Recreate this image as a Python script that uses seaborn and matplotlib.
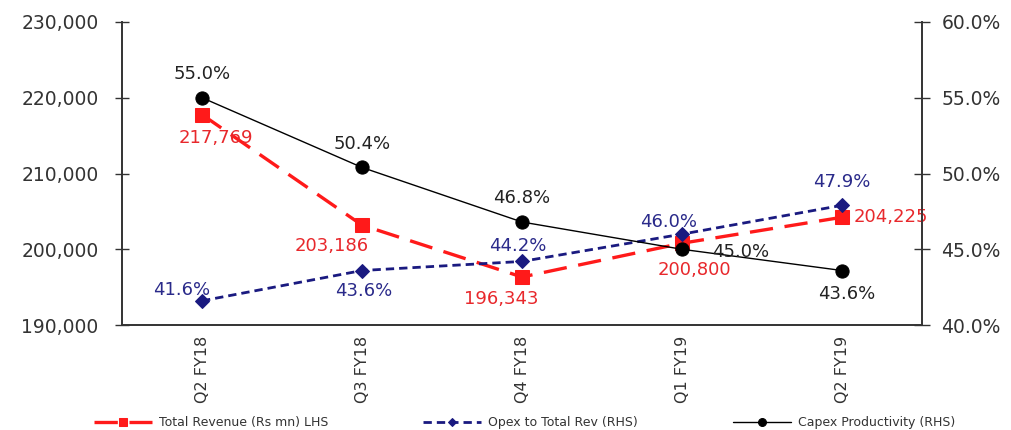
import numpy as np
import pandas as pd
import matplotlib
matplotlib.use("Agg")
import matplotlib.pyplot as plt
import seaborn as sns
from matplotlib.ticker import FuncFormatter

sns.set_style("white")
plt.rcParams['font.family'] = ['DejaVu Sans']

quarters = ["Q2 FY18", "Q3 FY18", "Q4 FY18", "Q1 FY19", "Q2 FY19"]
revenue = [217769, 203186, 196343, 200800, 204225]
opex_ratio = [41.6, 43.6, 44.2, 46.0, 47.9]
capex_prod = [55.0, 50.4, 46.8, 45.0, 43.6]

rev_labels = ["217,769", "203,186", "196,343", "200,800", "204,225"]

df = pd.DataFrame({"pos": np.arange(len(quarters)), "quarter": quarters,
                   "revenue": revenue, "opex": opex_ratio, "capex": capex_prod})

RED = "#ff1a1a"
RED_T = "#e8282c"
NAVY = "#1a1a80"
NAVY_T = "#2a2a8a"
BLK = "#000000"
BLK_T = "#222222"

fig = plt.figure(figsize=(10.11, 4.30), dpi=100)
ax = fig.add_axes([0.1207, 0.244, 0.7913, 0.705])
ax2 = ax.twinx()

sns.lineplot(data=df, x="pos", y="revenue", ax=ax, color=RED, marker="s",
             markersize=9.5, markeredgecolor=RED, linewidth=2.4, label="Total Revenue (Rs mn) LHS",
             legend=False)
ax.get_lines()[-1].set_dashes([7, 3.5])

sns.lineplot(data=df, x="pos", y="opex", ax=ax2, color=NAVY, marker="D",
             markersize=7, markeredgecolor=NAVY, linewidth=2.0, label="Opex to Total Rev (RHS)",
             legend=False)
ax2.get_lines()[-1].set_dashes([3, 1.8])

sns.lineplot(data=df, x="pos", y="capex", ax=ax2, color=BLK, marker="o",
             markersize=9.5, markeredgecolor=BLK, linewidth=1.0, label="Capex Productivity (RHS)",
             legend=False)

ax.set_xlim(-0.5, 4.5)
ax.set_ylim(190000, 230000)
ax2.set_ylim(40, 60)
ax.set_yticks(np.arange(190000, 230001, 10000))
ax2.set_yticks(np.arange(40, 60.01, 5))
ax.yaxis.set_major_formatter(FuncFormatter(lambda v, p: f"{int(v):,}"))
ax2.yaxis.set_major_formatter(FuncFormatter(lambda v, p: f"{v:.1f}%"))

ax.set_xticks(np.arange(len(quarters)))
ax.set_xticklabels(quarters, rotation=90, fontsize=11.5, color="#333333")
ax.set_xticks(np.arange(-0.5, 4.51, 1), minor=True)
ax.tick_params(axis="x", which="major", length=0, pad=8)
ax.tick_params(axis="x", which="minor", length=7, direction="out", color="#333333", width=1)
ax.set_xlabel("")
ax.set_ylabel("")
ax2.set_ylabel("")

ax.tick_params(axis="y", left=True, direction="inout", length=10, width=1, pad=12,
               labelsize=13.5, labelcolor="#333333", color="#333333")
ax2.tick_params(axis="y", right=True, direction="inout", length=12, width=1, pad=8,
                labelsize=13.5, labelcolor="#333333", color="#333333")

for a in (ax, ax2):
    a.spines["top"].set_visible(False)
    for s in ("left", "right", "bottom"):
        a.spines[s].set_visible(True)
        a.spines[s].set_color("#333333")
        a.spines[s].set_linewidth(1.2)
    a.grid(False)

# data labels (offsets in points)
rev_off = [(10, -17), (-22, -15), (-15, -16), (9, -19), (8, 0)]
rev_ha = ["center", "center", "center", "center", "left"]
for i, (v, t) in enumerate(zip(revenue, rev_labels)):
    ax.annotate(t, (i, v), xytext=rev_off[i], textcoords="offset points",
                ha=rev_ha[i], va="center", fontsize=13, color=RED_T)

opex_off = [(-15, 8), (1, -15), (-3, 11), (-10, 9), (0, 17)]
for i, v in enumerate(opex_ratio):
    ax2.annotate(f"{v:.1f}%", (i, v), xytext=opex_off[i], textcoords="offset points",
                 ha="center", va="center", fontsize=13, color=NAVY_T)

capex_off = [(0, 17), (0, 17), (0, 17), (42, -2), (3, -17)]
for i, v in enumerate(capex_prod):
    ax2.annotate(f"{v:.1f}%", (i, v), xytext=capex_off[i], textcoords="offset points",
                 ha="center", va="center", fontsize=13, color=BLK_T)

handles = ax.get_lines()[:1] + ax2.get_lines()[:2]
labels = ["Total Revenue (Rs mn) LHS", "Opex to Total Rev (RHS)", "Capex Productivity (RHS)"]
fig.legend(handles, labels, loc="center", bbox_to_anchor=(0.519, 0.017), ncol=3,
           frameon=False, fontsize=9, handlelength=4.6, handletextpad=0.6,
           columnspacing=7.6, markerscale=0.6, labelcolor="#333333")

fig.savefig("out.png", dpi=100, facecolor="white")
